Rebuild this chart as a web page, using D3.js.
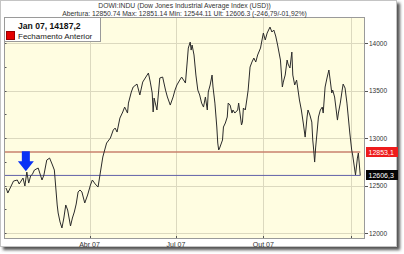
<!DOCTYPE html>
<html><head><meta charset="utf-8">
<script src="https://cdn.jsdelivr.net/npm/d3@7"></script>
<style>html,body{margin:0;padding:0;background:#fff;}svg{display:block;}</style>
</head><body>
<svg id="c" width="404" height="254"></svg>
<script>
const dates = ["2007-01-03","2007-01-04","2007-01-05","2007-01-08","2007-01-11","2007-01-15","2007-01-17","2007-01-21","2007-01-23","2007-01-25","2007-01-27","2007-01-29","2007-01-31","2007-02-02","2007-02-06","2007-02-08","2007-02-10","2007-02-12","2007-02-15","2007-02-18","2007-02-21","2007-02-23","2007-02-26","2007-02-27","2007-03-01","2007-03-03","2007-03-05","2007-03-07","2007-03-09","2007-03-12","2007-03-14","2007-03-16","2007-03-18","2007-03-20","2007-03-22","2007-03-24","2007-03-27","2007-03-30","2007-04-02","2007-04-04","2007-04-07","2007-04-10","2007-04-12","2007-04-15","2007-04-17","2007-04-19","2007-04-23","2007-04-26","2007-04-28","2007-04-30","2007-05-03","2007-05-06","2007-05-08","2007-05-11","2007-05-12","2007-05-15","2007-05-17","2007-05-21","2007-05-24","2007-05-27","2007-05-31","2007-06-02","2007-06-04","2007-06-06","2007-06-07","2007-06-08","2007-06-11","2007-06-14","2007-06-17","2007-06-20","2007-06-22","2007-06-25","2007-06-28","2007-06-30","2007-07-02","2007-07-05","2007-07-07","2007-07-11","2007-07-13","2007-07-14","2007-07-16","2007-07-17","2007-07-18","2007-07-20","2007-07-22","2007-07-24","2007-07-26","2007-07-28","2007-07-30","2007-08-01","2007-08-03","2007-08-04","2007-08-06","2007-08-08","2007-08-09","2007-08-11","2007-08-13","2007-08-14","2007-08-15","2007-08-16","2007-08-19","2007-08-20","2007-08-22","2007-08-24","2007-08-25","2007-08-27","2007-08-29","2007-08-30","2007-09-01","2007-09-04","2007-09-05","2007-09-08","2007-09-09","2007-09-10","2007-09-12","2007-09-14","2007-09-15","2007-09-17","2007-09-19","2007-09-21","2007-09-23","2007-09-25","2007-09-28","2007-09-30","2007-10-01","2007-10-03","2007-10-05","2007-10-08","2007-10-10","2007-10-12","2007-10-14","2007-10-16","2007-10-19","2007-10-21","2007-10-22","2007-10-24","2007-10-26","2007-10-27","2007-10-29","2007-10-31","2007-11-01","2007-11-03","2007-11-05","2007-11-08","2007-11-10","2007-11-12","2007-11-14","2007-11-16","2007-11-17","2007-11-19","2007-11-21","2007-11-22","2007-11-23","2007-11-24","2007-11-25","2007-11-28","2007-11-30","2007-12-02","2007-12-03","2007-12-05","2007-12-07","2007-12-09","2007-12-11","2007-12-12","2007-12-13","2007-12-15","2007-12-18","2007-12-19","2007-12-21","2007-12-23","2007-12-24","2007-12-26","2007-12-28","2007-12-29","2007-12-31","2008-01-02","2008-01-03","2008-01-06","2008-01-08","2008-01-09","2008-01-11"];
const closes = [12474,12453,12421,12484,12547,12558,12516,12579,12495,12642,12526,12600,12621,12663,12684,12621,12558,12610,12768,12789,12716,12663,12295,12211,12116,12053,12158,12295,12242,12074,12158,12221,12305,12432,12453,12432,12316,12400,12505,12558,12516,12484,12610,12800,12874,12947,13000,13084,13105,13063,13210,13274,13326,13263,13368,13484,13537,13568,13453,13589,13653,13684,13589,13474,13274,13421,13295,13632,13642,13505,13432,13347,13432,13505,13558,13610,13642,13579,13821,13947,14010,13926,13979,13874,13663,13505,13453,13368,13326,13432,13295,13484,13558,13663,13537,13368,13116,12947,12874,12895,12979,13116,13158,13221,13368,13347,13263,13295,13263,13295,13368,13137,13168,13316,13295,13432,13505,13747,13800,13842,13800,13874,13947,14053,14105,14032,14105,14168,14116,14137,14074,13979,13821,13537,13589,13663,13821,13779,13737,13905,13663,13558,13610,13400,13295,13158,13010,13221,13295,13242,13168,12979,12874,12747,12895,13221,13295,13326,13263,13537,13632,13716,13558,13474,13505,13432,13189,13263,13368,13505,13568,13526,13368,13263,13053,12874,12821,12611,12789,12842,12606];

const yTicks = [12000,12500,13000,13500,14000];
const xTickDates = ["2007-01-01","2007-04-01","2007-07-01","2007-10-01","2008-01-01"];
const xTickLabels = ["","Abr 07","Jul 07","Out 07",""];
const prevClose = 12853.1, lastClose = 12606.3;
const prevLabel = "12853,1", lastLabel = "12606,3";
const titleLine1 = "DOWI:INDU (Dow Jones Industrial Average Index (USD))";
const titleLine2 = "Abertura: 12850.74 Max: 12851.14 Min: 12544.11 Ult: 12606.3 (-246,79/-01,92%)";
const legendTitle = "Jan 07, 14187,2";
const legendItem = "Fechamento Anterior";
const arrowDate = "2007-01-24", arrowValue = 12650;

const parse = d3.timeParse("%Y-%m-%d");
const data = dates.map((d,i)=>({date:parse(d), v:closes[i]}));
const svg = d3.select("#c");
const FONT = "'Liberation Sans', Arial, sans-serif";

// frame + shadow
const defs = svg.append("defs");
const f = defs.append("filter").attr("id","sh").attr("x","-5%").attr("y","-5%").attr("width","115%").attr("height","115%");
f.append("feGaussianBlur").attr("stdDeviation",1.6);
svg.append("rect").attr("x",3).attr("y",3).attr("width",397).attr("height",247).attr("fill","#555").attr("filter","url(#sh)");
svg.append("rect").attr("x",0.5).attr("y",0.5).attr("width",396).attr("height",246).attr("fill","#fff").attr("stroke","#c4c4c4");

const L=4, R=365, T=17, B=239;
const x = d3.scaleTime().domain([parse("2007-01-01"), parse("2008-01-16")]).range([L,R]);
const y = d3.scaleLinear().domain([11937,14274]).range([B,T]);

// plot bg
svg.append("rect").attr("x",L).attr("y",T).attr("width",R-L).attr("height",B-T).attr("fill","#fffde1");

// grid
const g = svg.append("g");
g.selectAll(".hg").data(yTicks).enter().append("line")
  .attr("x1",L).attr("x2",R).attr("y1",d=>Math.round(y(d))+0.5).attr("y2",d=>Math.round(y(d))+0.5)
  .attr("stroke","#dcd9bf").attr("stroke-width",1);
g.selectAll(".vg").data(xTickDates.slice(1)).enter().append("line")
  .attr("x1",d=>Math.round(x(parse(d)))+0.5).attr("x2",d=>Math.round(x(parse(d)))+0.5).attr("y1",T).attr("y2",B)
  .attr("stroke","#dcd9bf").attr("stroke-width",1);

// small ticks left (every 250)
const minor = d3.range(12000,14300,250);
g.selectAll(".lt").data(minor).enter().append("line")
  .attr("x1",L).attr("x2",L+2.5).attr("y1",d=>Math.round(y(d))+0.5).attr("y2",d=>Math.round(y(d))+0.5)
  .attr("stroke","#555");
// bottom ticks
g.selectAll(".bt").data(xTickDates).enter().append("line")
  .attr("x1",d=>Math.round(x(parse(d)))+0.5).attr("x2",d=>Math.round(x(parse(d)))+0.5).attr("y1",B).attr("y2",B-3)
  .attr("stroke","#555");

// reference lines
const xEnd = x(data[data.length-1].date);
svg.append("line").attr("x1",L).attr("x2",xEnd).attr("y1",y(prevClose)).attr("y2",y(prevClose))
  .attr("stroke","#c8806c").attr("stroke-width",1.3);
svg.append("line").attr("x1",L).attr("x2",xEnd).attr("y1",y(lastClose)).attr("y2",y(lastClose))
  .attr("stroke","#6060a8").attr("stroke-width",1);

// price line
svg.append("path").datum(data)
  .attr("d", d3.line().x(d=>x(d.date)).y(d=>y(d.v)))
  .attr("fill","none").attr("stroke","#2b2b2b").attr("stroke-width",1).attr("stroke-linejoin","round");

// plot border
svg.append("rect").attr("x",L+0.5).attr("y",T+0.5).attr("width",R-L-1).attr("height",B-T-1)
  .attr("fill","none").attr("stroke","#9a9a9a");

// right axis
const ra = svg.append("g");
ra.selectAll(".rt").data(yTicks).enter().append("line")
  .attr("x1",R).attr("x2",R+3).attr("y1",d=>Math.round(y(d))+0.5).attr("y2",d=>Math.round(y(d))+0.5).attr("stroke","#555");
ra.selectAll(".rl").data(yTicks).enter().append("text")
  .attr("x",R+4).attr("y",d=>y(d)+2.5).text(d=>d)
  .attr("font-family",FONT).attr("font-size",6.5).attr("fill","#333");

// value boxes
function vbox(val, label, fill){
  const yy = y(val);
  svg.append("rect").attr("x",R+1).attr("y",Math.round(yy)-5).attr("width",32).attr("height",10).attr("fill",fill);
  svg.append("text").attr("x",R+3.5).attr("y",yy+2.6).text(label)
    .attr("font-family",FONT).attr("font-size",7).attr("fill","#fff");
}
vbox(prevClose, prevLabel, "#ee1c1c");
vbox(lastClose, lastLabel, "#050505");

// x labels
svg.selectAll(".xl").data(xTickDates.map((d,i)=>({d,l:xTickLabels[i]})).filter(o=>o.l)).enter().append("text")
  .attr("x",o=>x(parse(o.d))).attr("y",246.5).attr("text-anchor","middle").text(o=>o.l)
  .attr("font-family",FONT).attr("font-size",7).attr("fill","#333");

// titles
const cx = (L+R)/2;
svg.append("text").attr("x",cx).attr("y",8).attr("text-anchor","middle").text(titleLine1)
  .attr("font-family",FONT).attr("font-size",6.8).attr("fill","#333");
svg.append("text").attr("x",cx).attr("y",15.5).attr("text-anchor","middle").text(titleLine2)
  .attr("font-family",FONT).attr("font-size",6.8).attr("fill","#333");

// legend
svg.append("rect").attr("x",L+0.5).attr("y",T+0.5).attr("width",96).attr("height",24).attr("fill","#fff").attr("stroke","#9a9a9a");
svg.append("text").attr("x",18).attr("y",28.5).text(legendTitle)
  .attr("font-family",FONT).attr("font-size",8.6).attr("font-weight","bold").attr("fill","#111");
svg.append("rect").attr("x",6.5).attr("y",31.5).attr("width",8).attr("height",8).attr("fill","#e40000").attr("stroke","#900");
svg.append("text").attr("x",18).attr("y",38.5).text(legendItem)
  .attr("font-family",FONT).attr("font-size",8).attr("fill","#222");

// arrow
const tx = x(parse(arrowDate)), ty = y(arrowValue);
svg.append("path")
  .attr("d", `M${tx-4},${ty-20} L${tx+4},${ty-20} L${tx+4},${ty-10} L${tx+8},${ty-10} L${tx},${ty} L${tx-8},${ty-10} L${tx-4},${ty-10} Z`)
  .attr("fill","#0a32f5");
</script>
</body></html>
